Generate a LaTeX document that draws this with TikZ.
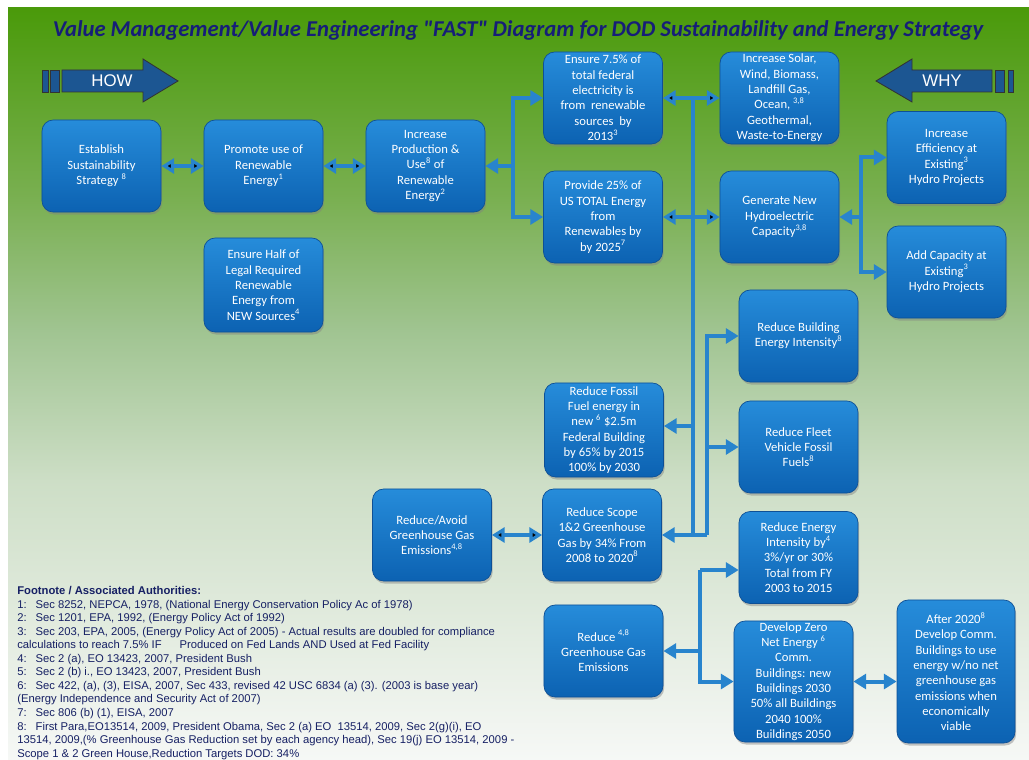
\documentclass[tikz,border=0pt]{standalone}
\usepackage{fontspec}
\setmainfont{Carlito}
\newfontfamily\titlefont[Ligatures=TeXOff]{Carlito}
\newfontfamily\notefont{Liberation Sans}
\usetikzlibrary{arrows.meta,shadows}

\definecolor{bgtop}{RGB}{74,154,10}
\definecolor{bgmida}{RGB}{122,176,82}
\definecolor{bgmidb}{RGB}{160,196,145}
\definecolor{bgmidc}{RGB}{205,222,198}
\definecolor{bgbot}{RGB}{246,248,246}
\definecolor{titleblue}{RGB}{22,30,120}
\definecolor{boxtop}{RGB}{38,140,218}
\definecolor{boxbot}{RGB}{12,98,178}
\definecolor{boxline}{RGB}{14,80,150}
\definecolor{linkblue}{RGB}{40,132,205}
\definecolor{bannerblue}{RGB}{28,86,146}
\definecolor{notetext}{RGB}{22,32,100}

\tikzset{
  box/.style={rectangle,rounded corners=8pt,draw=boxline,line width=0.5pt,
    top color=boxtop,bottom color=boxbot,text=white,align=center,
    minimum width=2.975cm,minimum height=2.3cm,inner sep=1pt,
    font=\fontsize{9}{10.9}\selectfont,
    drop shadow={shadow xshift=0.8pt,shadow yshift=-1.8pt,opacity=0.45}},
  link/.style={draw=linkblue,line width=0.1cm},
  banner/.style={draw=black!80,line width=0.6pt,fill=bannerblue},
  bannertext/.style={text=white,font=\notefont\fontsize{12}{14}\selectfont}
}

\begin{document}
\begin{tikzpicture}[x=0.025cm,y=-0.025cm,>={Triangle[length=9pt,width=10.5pt]}]
\useasboundingbox (0,0) rectangle (1029,760);
\shade[top color=bgtop,bottom color=bgmida] (8,8) rectangle (1029,201);
\shade[top color=bgmida,bottom color=bgmidb] (8,200) rectangle (1029,331);
\shade[top color=bgmidb,bottom color=bgmidc] (8,330) rectangle (1029,481);
\shade[top color=bgmidc,bottom color=bgbot] (8,480) rectangle (1029,760);

\node(title) at (518,30)[text=titleblue,font=\titlefont\fontsize{16.1}{19}\selectfont\bfseries\itshape]
  {Value Management/Value Engineering "FAST" Diagram for DOD Sustainability and Energy Strategy};

\draw[banner] (42,70) rectangle (48,92);
\draw[banner] (50,70) rectangle (59,92);
\draw[banner] (62,70) -- (143,70) -- (143,59) -- (178,81) -- (143,102) -- (143,92) -- (62,92) -- cycle;
\node(how) at (112,81)[bannertext] {HOW};

\draw[banner] (1008,70) rectangle (1013,92);
\draw[banner] (995,70) rectangle (1004,92);
\draw[banner] (992,70) -- (912,70) -- (912,59) -- (876,81) -- (912,102) -- (912,92) -- (992,92) -- cycle;
\node(why) at (942,81)[bannertext] {WHY};

\node(est) at (101.5,166)[box]     {Establish\\Sustainability\\Strategy \textsuperscript{8}};
\node(prom) at (263.5,166)[box]    {Promote use of\\Renewable\\Energy\textsuperscript{1}};
\node(incr) at (425.5,166)[box]    {Increase\\Production \&\\Use\textsuperscript{8} of\\Renewable\\Energy\textsuperscript{2}};
\node(half) at (263.5,285)[box,minimum height=2.35cm]
  {Ensure Half of\\Legal Required\\Renewable\\Energy from\\NEW Sources\textsuperscript{4}};
\node(ensure) at (603,98)[box]     {Ensure 7.5\% of\\total federal\\electricity is\\from\ \ renewable\\sources\ \ by\\2013\textsuperscript{3}};
\node(provide) at (603,217)[box]   {Provide 25\% of\\US TOTAL Energy\\from\\Renewables by\\by 2025\textsuperscript{7}};
\node(solar) at (779.5,98)[box]    {Increase Solar,\\Wind, Biomass,\\Landfill Gas,\\Ocean, \textsuperscript{3,8}\\Geothermal,\\Waste-to-Energy};
\node(hydro) at (779.5,217)[box]   {Generate New\\Hydroelectric\\Capacity\textsuperscript{3,8}};
\node(effic) at (946.5,157.5)[box] {Increase\\Efficiency at\\Existing\textsuperscript{3}\\Hydro Projects};
\node(addcap) at (946.5,272)[box]  {Add Capacity at\\Existing\textsuperscript{3}\\Hydro Projects};
\node(bldg) at (798.5,336)[box]    {Reduce Building\\Energy Intensity\textsuperscript{8}};
\node(fleet) at (798.5,447)[box]   {Reduce Fleet\\Vehicle Fossil\\Fuels\textsuperscript{8}};
\node(fossil) at (604,430)[box,minimum height=2.35cm]
  {Reduce Fossil\\Fuel energy in\\new \textsuperscript{6} \$2.5m\\Federal Building\\by 65\% by 2015\\100\% by 2030};
\node(scope) at (602,535)[box]     {Reduce Scope\\1\&2 Greenhouse\\Gas by 34\% From\\2008 to 2020\textsuperscript{8}};
\node(avoid) at (432,535)[box]     {Reduce/Avoid\\Greenhouse Gas\\Emissions\textsuperscript{4,8}};
\node(intens) at (798.5,557.5)[box]
  {Reduce Energy\\Intensity by\textsuperscript{4}\\3\%/yr or 30\%\\Total from FY\\2003 to 2015};
\node(ghg) at (603.5,651)[box]     {Reduce \textsuperscript{4,8}\\Greenhouse Gas\\Emissions};
\node(zero) at (793.5,681.5)[box,minimum height=2.925cm]
  {Develop Zero\\Net Energy \textsuperscript{6}\\Comm.\\Buildings: new\\Buildings 2030\\50\% all Buildings\\2040 100\%\\Buildings 2050};
\node(after) at (956,671.5)[box,minimum width=2.95cm,minimum height=3.575cm]
  {After 2020\textsuperscript{8}\\Develop Comm.\\Buildings to use\\energy w/no net\\greenhouse gas\\emissions when\\economically\\viable};

\coordinate(jincr) at (513,166);
\coordinate(jbus) at (693,98);
\coordinate(jfossil) at (693,426);
\coordinate(jscope) at (707,535);
\coordinate(jhydro) at (861,217);
\coordinate(jghg) at (700,651);
\coordinate(jintens) at (700,570);

\path [link,<->]
  (est)      edge  (prom)
  (prom)     edge  (incr)
  (ensure)   edge  (solar)
  (provide)  edge  (hydro)
  (avoid)    edge  (scope);
\draw [link,<->] (zero.east) -- (zero.east -| after.west);

\draw [link,->] (jincr) -- (incr);
\draw [link,->] (jincr) |- (ensure);
\draw [link,->] (jincr) |- (provide);

\draw [link] (jbus) -- (jbus |- jscope) -- (jscope);
\draw [link,->] (jfossil) -- (jfossil -| fossil.east);
\draw [link,->] (jscope) -- (scope);
\draw [link,->] (jscope) |- (bldg);
\draw [link,->] (jscope) |- (fleet);

\draw [link,->] (jhydro) -- (hydro);
\draw [link,->] (jhydro) |- (effic);
\draw [link,->] (jhydro) |- (addcap);

\draw [link,->] (jghg) -- (ghg);
\draw [link] (jintens) -- (jintens |- zero);
\draw [link,->] (jintens) -- (jintens -| intens.west);
\draw [link,->] (jintens) |- (zero);

\node(notes) at (17,586)[anchor=north west,align=left,inner sep=0pt,text=notetext,
  font=\notefont\fontsize{8}{9.65}\selectfont] {%
  \textbf{Footnote / Associated Authorities:}\\
  1:\hspace{0.8em}Sec 8252, NEPCA, 1978, (National Energy Conservation Policy Ac of 1978)\\
  2:\hspace{0.8em}Sec 1201, EPA, 1992, (Energy Policy Act of 1992)\\
  3:\hspace{0.8em}Sec 203, EPA, 2005, (Energy Policy Act of 2005) - Actual results are doubled for compliance\\
  calculations to reach 7.5\% IF\hspace{1.6em}Produced on Fed Lands AND Used at Fed Facility\\
  4:\hspace{0.8em}Sec 2 (a), EO 13423, 2007, President Bush\\
  5:\hspace{0.8em}Sec 2 (b) i., EO 13423, 2007, President Bush\\
  6:\hspace{0.8em}Sec 422, (a), (3), EISA, 2007, Sec 433, revised 42 USC 6834 (a) (3). (2003 is base year)\\
  (Energy Independence and Security Act of 2007)\\
  7:\hspace{0.8em}Sec 806 (b) (1), EISA, 2007\\
  8:\hspace{0.8em}First Para,EO13514, 2009, President Obama, Sec 2 (a) EO\ \ 13514, 2009, Sec 2(g)(i), EO\\
  13514, 2009,(\% Greenhouse Gas Reduction set by each agency head), Sec 19(j) EO 13514, 2009 -\\
  Scope 1 \& 2 Green House,Reduction Targets DOD: 34\%};
\end{tikzpicture}
\end{document}
